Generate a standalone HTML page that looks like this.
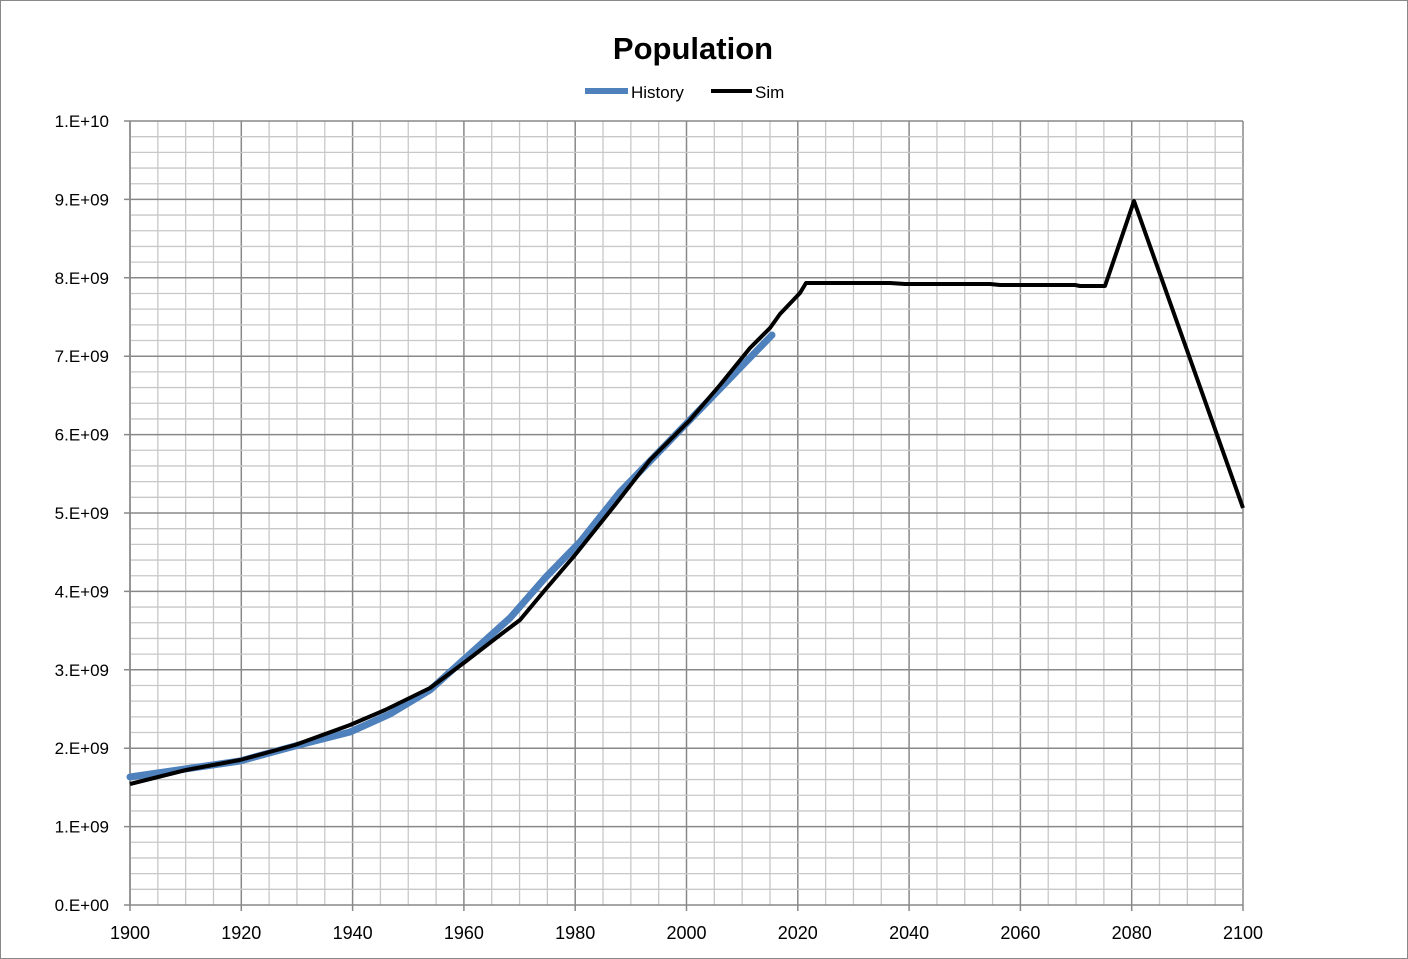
<!DOCTYPE html>
<html><head><style>
html,body{margin:0;padding:0;background:#fff;}
svg{display:block;font-family:"Liberation Sans",sans-serif;}
</style></head><body>
<svg id="s" width="1408" height="959" viewBox="0 0 1408 959" xmlns="http://www.w3.org/2000/svg">
<rect x="0.5" y="0.5" width="1407" height="958" fill="#fff" stroke="#888"/>
<text x="693" y="59" text-anchor="middle" font-size="31" font-weight="bold" fill="#000">Population</text>
<line x1="585" y1="91" x2="628" y2="91" stroke="#4f81bd" stroke-width="6"/>
<text x="631" y="98" font-size="17">History</text>
<line x1="711" y1="91" x2="752" y2="91" stroke="#000" stroke-width="4"/>
<text x="755" y="98" font-size="17">Sim</text>
<g id="grid"></g>
<polyline fill="none" stroke="#4f81bd" stroke-width="7" stroke-linejoin="round" stroke-linecap="round" points="130,777 240,761 295,746 350,732 390,714 430,690 460,663 510,618 545,578 580,542 620,492 685,425 740,368 772,335"/>
<polyline fill="none" stroke="#000" stroke-width="4" stroke-linejoin="round" points="130,784 186,770 240,760 295,745 350,725 385,710 430,688 465,662 500,635 520,620 545,590 575,555 615,505 650,460 690,420 720,385 750,348 770,328 780,314 800,293 806,283 890,283 905,284 990,284 1000,285 1075,285 1080,286 1105,286 1134,201 1243,508"/>
</svg>
<script>
var g=document.getElementById('grid'),h='';
var x0=130,x1=1243,y0=905,y1=121;
for(var i=0;i<=40;i++){var x=x0+(x1-x0)*i/40;var maj=i%4==0;
h+='<line x1="'+x+'" y1="'+y1+'" x2="'+x+'" y2="'+(maj?y0+6:y0)+'" stroke="'+(maj?'#888':'#c8c8c8')+'" stroke-width="'+(maj?1.5:1.3)+'"/>';
if(maj)h+='<text x="'+x+'" y="939" text-anchor="middle" font-size="18">'+(1900+i*5)+'</text>';}
for(var j=0;j<=50;j++){var y=y0-(y0-y1)*j/50;var maj=j%5==0;
h+='<line x1="'+(maj?x0-6:x0)+'" y1="'+y+'" x2="'+x1+'" y2="'+y+'" stroke="'+(maj?'#888':'#c8c8c8')+'" stroke-width="'+(maj?1.5:1.3)+'"/>';
if(maj){var v=j/5;var t=v==10?'1.E+10':(v+'.E+'+(v==0?'00':'09'));h+='<text x="109" y="'+(y+6)+'" text-anchor="end" font-size="17">'+t+'</text>';}}
h+='<line x1="'+x0+'" y1="'+y1+'" x2="'+x0+'" y2="'+y0+'" stroke="#888" stroke-width="1.5"/>';
g.innerHTML=h;
</script>
</body></html>
